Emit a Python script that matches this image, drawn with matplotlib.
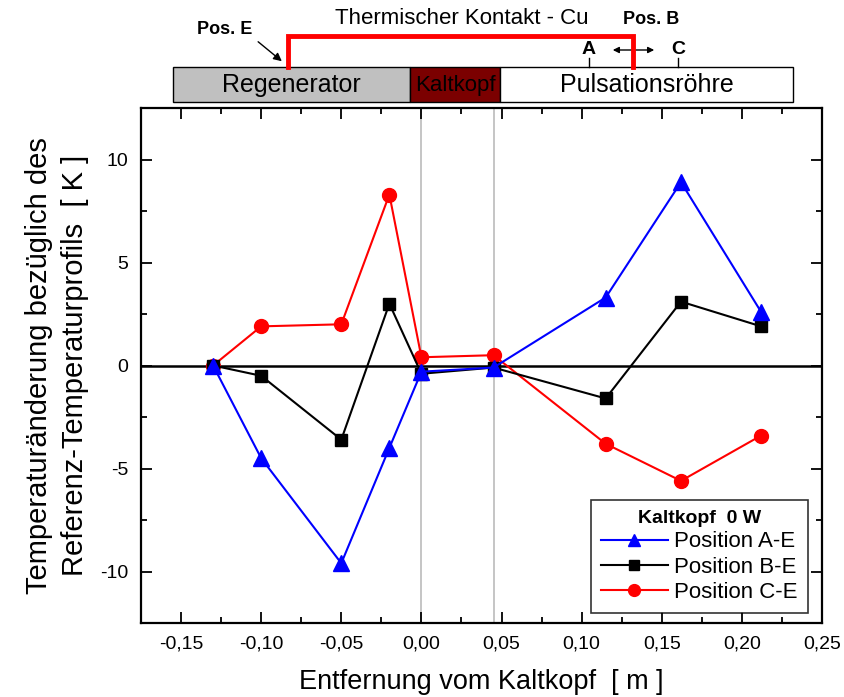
import matplotlib
matplotlib.use("Agg")
import matplotlib.pyplot as plt
from matplotlib.patches import Rectangle, FancyArrowPatch
from matplotlib.lines import Line2D
from matplotlib.ticker import MultipleLocator, FuncFormatter

plt.rcParams['font.family'] = ['Liberation Sans', 'DejaVu Sans']

# distance from cold head [m]
x_pos = [-0.13, -0.10, -0.05, -0.02, 0.0, 0.045, 0.115, 0.162, 0.212]
# temperature change [K]
pos_ae = [0.0, -4.5, -9.6, -4.0, -0.3, -0.1, 3.3, 8.9, 2.6]
pos_be = [0.0, -0.5, -3.6, 3.0, -0.4, -0.1, -1.6, 3.1, 1.9]
pos_ce = [0.0, 1.9, 2.0, 8.3, 0.4, 0.5, -3.8, -5.6, -3.4]

W, H = 845, 697
fig = plt.figure(figsize=(W / 100, H / 100), dpi=100)
ax = fig.add_axes([141 / W, 1 - 623 / H, (822 - 141) / W, (623 - 108) / H])

ax.axvline(0.0, color='#c0c0c0', lw=1.3, zorder=1)
ax.axvline(0.045, color='#c0c0c0', lw=1.3, zorder=1)
ax.axhline(0, color='black', lw=1.8, zorder=2)

ax.plot(x_pos, pos_ae, color='#0000ff', lw=1.5, marker='^', ms=11, label='Position A-E', zorder=5)
ax.plot(x_pos, pos_be, color='black', lw=1.5, marker='s', ms=8, label='Position B-E', zorder=4)
ax.plot(x_pos, pos_ce, color='#ff0000', lw=1.5, marker='o', ms=10, label='Position C-E', zorder=3)

ax.set_xlim(-0.175, 0.25)
ax.set_ylim(-12.5, 12.5)
ax.xaxis.set_major_locator(MultipleLocator(0.05))
ax.xaxis.set_minor_locator(MultipleLocator(0.025))
ax.yaxis.set_major_locator(MultipleLocator(5))
ax.yaxis.set_minor_locator(MultipleLocator(2.5))
ax.xaxis.set_major_formatter(FuncFormatter(lambda v, p: f"{v:.2f}".replace('.', ',')))
ax.yaxis.set_major_formatter(FuncFormatter(lambda v, p: f"{v:.0f}"))
ax.tick_params(which='both', direction='in', top=True, right=True, labelsize=14, width=1.3)
ax.tick_params(which='major', length=8, pad=9)
ax.tick_params(which='minor', length=4)
for s in ax.spines.values():
    s.set_linewidth(1.6)

ax.set_xlabel('Entfernung vom Kaltkopf  [ m ]', fontsize=19.5, labelpad=12)
ax.set_ylabel('Temperaturänderung bezüglich des\nReferenz-Temperaturprofils  [ K ]', fontsize=21,
              labelpad=8, linespacing=1.35)

leg = ax.legend(loc='lower right', title='Kaltkopf  0 W', fontsize=16, frameon=True, fancybox=False,
                edgecolor='black', handlelength=3.0, borderpad=0.45, labelspacing=0.2,
                handletextpad=0.3, markerscale=0.85, borderaxespad=0,
                bbox_to_anchor=(0.979, 0.019))
leg.get_title().set_fontweight('bold')
leg.get_title().set_fontsize(14)
leg.get_frame().set_linewidth(1.2)
leg.set_zorder(10)


# schematic above the plot (figure pixel coordinates)
def fx(x):
    return x / W


def fy(y):
    return 1 - y / H


boxes = [(173, 410, '#c0c0c0', 'Regenerator', 18),
         (410, 500, '#7b0000', 'Kaltkopf', 16),
         (500, 793, 'white', 'Pulsationsröhre', 18)]
for x0, x1, fc, txt, fs in boxes:
    fig.add_artist(Rectangle((fx(x0), fy(102)), fx(x1) - fx(x0), fy(67) - fy(102),
                             facecolor=fc, edgecolor='black', lw=1.0, transform=fig.transFigure))
    fig.text(fx((x0 + x1) / 2), fy(85), txt, ha='center', va='center', fontsize=fs, color='black')

fig.add_artist(Line2D([fx(288), fx(288), fx(633), fx(633)], [fy(67), fy(36), fy(36), fy(67)],
                      color='#ff0000', lw=3.5, transform=fig.transFigure, solid_joinstyle='miter'))
fig.text(fx(462), fy(18), 'Thermischer Kontakt - Cu', ha='center', va='center', fontsize=16)
fig.text(fx(651), fy(20), 'Pos. B', ha='center', va='center', fontsize=13, fontweight='bold')
fig.text(fx(225), fy(30), 'Pos. E', ha='center', va='center', fontsize=13, fontweight='bold')
fig.add_artist(FancyArrowPatch((fx(256), fy(40)), (fx(284), fy(63)), transform=fig.transFigure,
                               arrowstyle='-|>', mutation_scale=12, lw=1.0, color='black'))
for x, lab in [(589, 'A'), (678, 'C')]:
    fig.text(fx(x), fy(50), lab, ha='center', va='center', fontsize=14, fontweight='bold')
    fig.add_artist(Line2D([fx(x), fx(x)], [fy(58), fy(67)], color='black', lw=1.0,
                          transform=fig.transFigure))
fig.add_artist(FancyArrowPatch((fx(610), fy(50)), (fx(657), fy(50)), transform=fig.transFigure,
                               arrowstyle='<|-|>', mutation_scale=9, lw=1.0, color='black'))

fig.savefig('out.png', dpi=100)
